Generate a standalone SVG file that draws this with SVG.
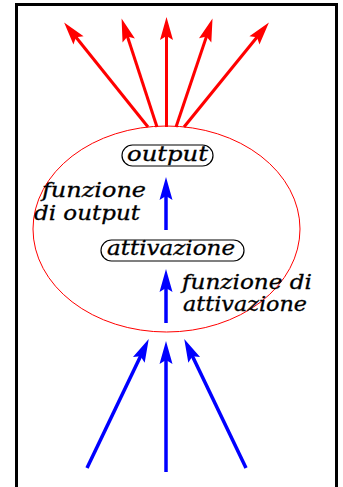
<svg xmlns="http://www.w3.org/2000/svg" width="343" height="487" viewBox="0 0 343 487">
  <style>
    .lbl { font-family: "DejaVu Serif", "Liberation Serif", serif; font-style: italic; font-size: 20px; fill: #000; stroke: #000; stroke-width: 0.3; }
    .box { fill: #fff; stroke: #000; stroke-width: 1.2; }
    .red { stroke: #ff0000; stroke-width: 3; fill: none; marker-end: url(#headRed); }
    .blue { stroke: #0000ff; stroke-width: 3.5; fill: none; marker-end: url(#headBlue); }
  </style>
  <defs>
    <marker id="headRed" markerUnits="userSpaceOnUse" markerWidth="30" markerHeight="20" refX="12" refY="7" orient="auto" overflow="visible">
      <path d="M23,7 L0,0.5 L4,7 L0,13.5 Z" fill="#ff0000"/>
    </marker>
    <marker id="headBlue" markerUnits="userSpaceOnUse" markerWidth="30" markerHeight="20" refX="12" refY="7" orient="auto" overflow="visible">
      <path d="M23,7 L0,0.5 L4,7 L0,13.5 Z" fill="#0000ff"/>
    </marker>
  </defs>
  <rect x="0" y="0" width="343" height="487" fill="#fff"/>
  <rect id="frame" x="16.5" y="4.5" width="320" height="500" fill="none" stroke="#000" stroke-width="3"/>

  <g id="neuron">
    <ellipse cx="166.5" cy="229" rx="133.5" ry="103" fill="none" stroke="#ff0000" stroke-width="1"/>
  </g>

  <g id="connectors">
    <!-- output arrows (red) -->
    <line class="red" x1="148" y1="127" x2="71" y2="31"/>
    <line class="red" x1="157" y1="127" x2="125" y2="29"/>
    <line class="red" x1="166.5" y1="127" x2="166.5" y2="28"/>
    <line class="red" x1="176" y1="127" x2="209" y2="29"/>
    <line class="red" x1="184" y1="127" x2="262" y2="31"/>
    <!-- internal arrows (blue) -->
    <line class="blue" x1="166" y1="230" x2="166" y2="188"/>
    <line class="blue" x1="166" y1="323" x2="166" y2="280"/>
    <!-- input arrows (blue) -->
    <line class="blue" x1="87" y1="468" x2="144" y2="349"/>
    <line class="blue" x1="166" y1="472" x2="166" y2="352"/>
    <line class="blue" x1="246" y1="468" x2="189" y2="349"/>
  </g>

  <g id="node-output">
    <rect class="box" x="122" y="145" width="91" height="21" rx="10.5"/>
    <text class="lbl" x="127" y="161" textLength="81" lengthAdjust="spacingAndGlyphs">output</text>
  </g>

  <g id="node-attivazione">
    <rect class="box" x="101" y="240" width="143" height="21" rx="10.5"/>
    <text class="lbl" x="107" y="255" textLength="128" lengthAdjust="spacingAndGlyphs">attivazione</text>
  </g>

  <g id="label-funzione-output">
    <text class="lbl" x="42" y="197" textLength="104" lengthAdjust="spacingAndGlyphs">funzione</text>
    <text class="lbl" x="34" y="220" textLength="106" lengthAdjust="spacingAndGlyphs">di output</text>
  </g>

  <g id="label-funzione-attivazione">
    <text class="lbl" x="182" y="289" textLength="130" lengthAdjust="spacingAndGlyphs">funzione di</text>
    <text class="lbl" x="183" y="311" textLength="124" lengthAdjust="spacingAndGlyphs">attivazione</text>
  </g>
</svg>
